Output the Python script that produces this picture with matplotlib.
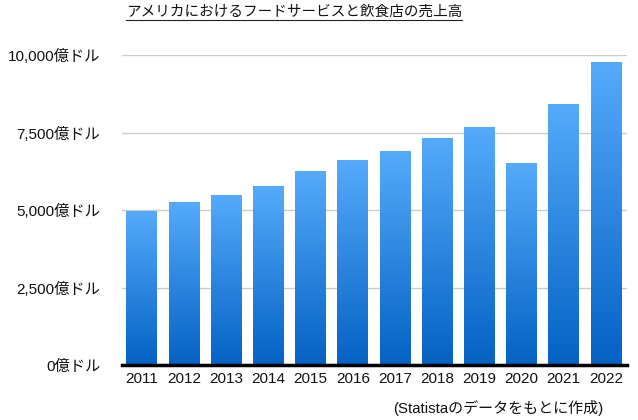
import matplotlib
matplotlib.use("Agg")
import matplotlib.pyplot as plt
import numpy as np
from matplotlib.colors import LinearSegmentedColormap
from matplotlib.lines import Line2D

plt.rcParams['font.family'] = ['Liberation Sans', 'Noto Sans CJK JP', 'DejaVu Sans']

years = ["2011", "2012", "2013", "2014", "2015", "2016", "2017", "2018", "2019", "2020", "2021", "2022"]
sales = [4945, 5234, 5458, 5747, 6228, 6612, 6900, 7317, 7670, 6516, 8407, 9753]
yticks = [0, 2500, 5000, 7500, 10000]
ytick_labels = ["0億ドル", "2,500億ドル", "5,000億ドル", "7,500億ドル", "10,000億ドル"]
title = "アメリカにおけるフードサービスと飲食店の売上高"
source = "(Statistaのデータをもとに作成)"

fig = plt.figure(figsize=(6.38, 4.2), dpi=100)
ax = fig.add_axes([122/638, 1-365/420, (627-122)/638, (365-55)/420])

x = np.arange(len(years))
bars = ax.bar(x, sales, width=0.73, color='none', zorder=3)

cmap = LinearSegmentedColormap.from_list("g", ["#0462C4", "#55AAFB"])
grad = np.linspace(0, 1, 256).reshape(-1, 1)
for b in bars:
    x0, y0 = b.get_x(), b.get_y()
    w, h = b.get_width(), b.get_height()
    ax.imshow(grad, extent=(x0, x0 + w, y0, y0 + h), origin='lower', cmap=cmap,
              aspect='auto', zorder=3, interpolation='bicubic')

ax.set_xlim(-0.47, 11.5)
ax.set_ylim(0, 10000)
ax.set_yticks(yticks)
ax.set_yticklabels(ytick_labels)
ax.set_xticks(x)
ax.set_xticklabels(years)
ax.tick_params(axis='y', length=0, pad=15.5, labelsize=11, colors='#111111')
ax.tick_params(axis='x', length=0, pad=5, labelsize=11, colors='#111111')
ax.grid(axis='y', color='#cccccc', linewidth=1.0, zorder=0)
for s in ['top', 'right', 'left']:
    ax.spines[s].set_visible(False)
ax.spines['bottom'].set_linewidth(2.5)
ax.spines['bottom'].set_color('black')
ax.spines['bottom'].set_zorder(5)

t = fig.text(294/638, 1-12/420, title, ha='center', va='center', fontsize=10.5, color='#111111')
fig.canvas.draw()
bb = t.get_window_extent()
inv = fig.transFigure.inverted()
(lx0, ly0), (lx1, ly1) = inv.transform([(bb.x0, bb.y0), (bb.x1, bb.y0)])
fig.add_artist(Line2D([lx0, lx1], [ly0 - 0.002, ly0 - 0.002], transform=fig.transFigure,
                      color='#222222', linewidth=0.8))

fig.text(603/638, 1-408/420, source, ha='right', va='center', fontsize=10.8, color='#111111')

fig.savefig("out.png", dpi=100)
